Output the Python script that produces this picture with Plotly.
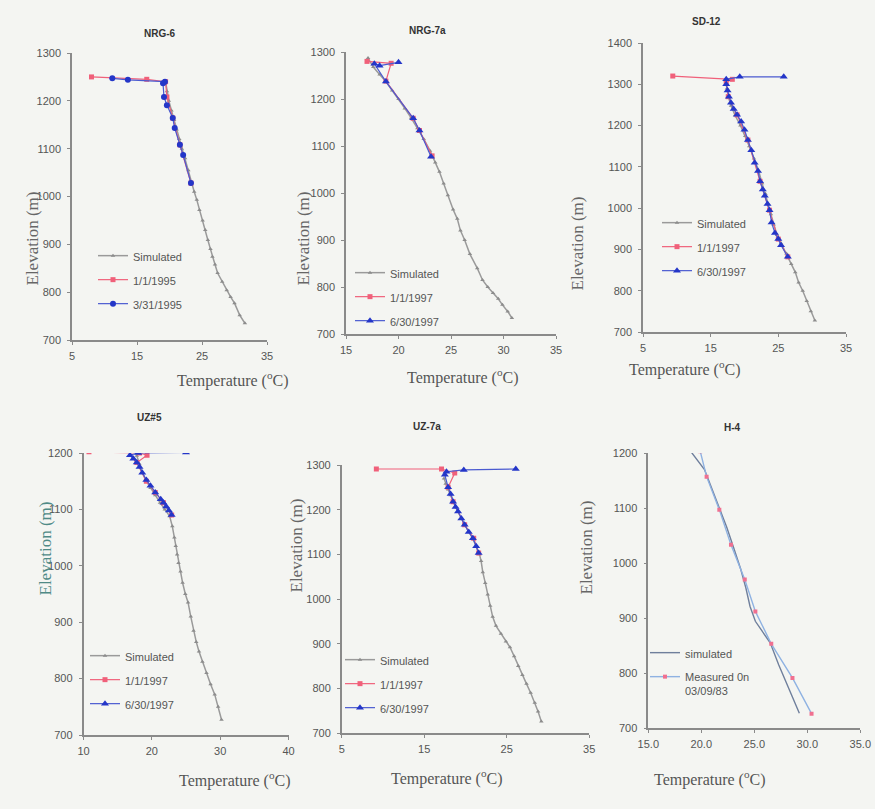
import plotly.graph_objects as go

W, H = 875, 809

# ---------------- data: temperature (deg C) vs elevation (m) ----------------
# NRG-6
nrg6_sim_t = [19.4, 19.6, 19.9, 20.3, 20.7, 21.1, 21.5, 21.9, 22.4, 22.9, 23.4, 23.8, 24.2, 24.6,
              25.1, 25.5, 25.9, 26.3, 26.6, 27.0, 27.4, 28.1, 28.8, 29.4, 30.0, 30.8, 31.6]
nrg6_sim_e = [1240, 1220, 1200, 1180, 1160, 1140, 1120, 1100, 1080, 1055, 1030, 1010, 993, 972,
              950, 930, 909, 890, 874, 858, 840, 822, 804, 790, 777, 752, 735]
nrg6_m1_t = [8.0, 16.5, 19.4, 19.6, 20.5, 21.6, 23.3]
nrg6_m1_e = [1250, 1245, 1240, 1208, 1164, 1108, 1028]
nrg6_m2_t = [11.2, 13.6, 19.3, 19.0, 19.15, 19.6, 20.5, 20.8, 21.6, 22.1, 23.3]
nrg6_m2_e = [1247, 1244, 1240, 1237, 1208, 1191, 1164, 1143, 1108, 1087, 1028]

# NRG-7a
nrg7_sim_t = [17.1, 17.6, 18.2, 18.8, 19.4, 20.0, 20.6, 21.2, 21.8, 22.4, 23.0, 23.5, 23.9, 24.3,
              24.7, 25.2, 25.6, 25.9, 26.3, 26.8, 27.5, 28.0, 28.5, 29.0, 29.5, 29.9, 30.4, 30.8]
nrg7_sim_e = [1287, 1268, 1252, 1237, 1218, 1200, 1180, 1160, 1138, 1115, 1090, 1065, 1045, 1020,
              995, 965, 945, 920, 900, 870, 840, 815, 800, 787, 775, 762, 748, 734]
nrg7_m1_t = [17.0, 19.3, 18.8, 21.4, 22.0, 23.2]
nrg7_m1_e = [1280, 1276, 1238, 1159, 1133, 1079]
nrg7_m2_t = [20.0, 18.2, 17.7, 18.8, 21.4, 22.0, 23.1]
nrg7_m2_e = [1278, 1271, 1275, 1237, 1159, 1133, 1077]

# SD-12
sd12_sim_t = [17.2, 17.4, 17.6, 18.0, 18.6, 19.4, 20.1, 20.7, 21.4, 22.1, 22.6, 23.1, 23.5, 23.9,
              24.3, 24.8, 25.4, 26.2, 26.9, 27.5, 28.0, 28.6, 29.2, 29.8, 30.4]
sd12_sim_e = [1310, 1290, 1270, 1248, 1225, 1200, 1175, 1150, 1120, 1090, 1060, 1035, 1010, 985,
              960, 935, 915, 890, 865, 845, 820, 800, 775, 750, 728]
sd12_m1_t = [9.4, 18.2, 17.3, 17.6, 18.9, 20.5, 22.3, 23.7, 25.0, 26.4]
sd12_m1_e = [1320, 1312, 1305, 1270, 1226, 1165, 1065, 995, 925, 882]
sd12_m2_t = [25.8, 19.3, 17.3, 17.3, 17.5, 17.7, 18.0, 18.4, 18.9, 19.5, 20.0, 20.5, 21.0, 21.5,
             22.0, 22.3, 22.7, 23.0, 23.4, 23.7, 24.0, 24.5, 25.0, 25.4, 26.4]
sd12_m2_e = [1318, 1318, 1312, 1300, 1285, 1270, 1255, 1240, 1226, 1210, 1190, 1165, 1140, 1110,
             1090, 1065, 1045, 1030, 1010, 995, 965, 940, 925, 910, 882]

# UZ#5
uz5_sim_t = [17.8, 18.2, 18.6, 19.2, 19.8, 20.5, 21.2, 21.9, 22.6, 23.0, 23.3, 23.5, 23.7, 23.9,
             24.2, 24.5, 24.9, 25.3, 25.7, 26.1, 26.5, 26.9, 27.4, 28.0, 28.6, 29.2, 29.7, 30.2]
uz5_sim_e = [1195, 1180, 1165, 1150, 1138, 1125, 1112, 1100, 1088, 1070, 1050, 1035, 1020, 1005,
             990, 970, 950, 935, 910, 885, 865, 848, 830, 810, 790, 772, 750, 727]
uz5_m1_t = [10.8, 18.2, 19.3, 17.8, 19.2, 20.5, 21.7, 22.9]
uz5_m1_e = [1202, 1200, 1196, 1183, 1150, 1130, 1112, 1090]
uz5_m2_t = [25.0, 18.0, 16.8, 17.3, 17.8, 18.2, 18.6, 19.2, 19.8, 20.5, 21.3, 21.7, 22.1, 22.5, 22.9]
uz5_m2_e = [1201, 1200, 1196, 1190, 1183, 1175, 1165, 1152, 1142, 1130, 1118, 1112, 1105, 1098, 1090]

# UZ-7a
uz7_sim_t = [17.4, 17.6, 17.9, 18.2, 18.5, 18.8, 19.1, 19.5, 19.9, 20.4, 20.9, 21.3, 21.7, 21.9,
             22.1, 22.4, 22.7, 23.0, 23.3, 23.7, 24.3, 24.9, 25.4, 25.9, 26.4, 26.9, 27.4, 27.9,
             28.4, 28.8, 29.2]
uz7_sim_e = [1270, 1258, 1245, 1232, 1218, 1206, 1195, 1180, 1166, 1150, 1135, 1118, 1100, 1085,
             1060, 1036, 1010, 985, 960, 940, 922, 905, 892, 872, 850, 830, 810, 790, 768, 748, 726]
uz7_m1_t = [9.2, 17.1, 18.7, 17.9, 18.5, 19.9, 21.0, 21.6]
uz7_m1_e = [1291, 1291, 1282, 1250, 1218, 1166, 1136, 1103]
uz7_m2_t = [26.1, 19.8, 17.7, 17.5, 17.9, 18.2, 18.5, 18.8, 19.1, 19.5, 19.9, 20.4, 20.9, 21.3, 21.6]
uz7_m2_e = [1291, 1289, 1285, 1278, 1250, 1235, 1218, 1206, 1196, 1180, 1166, 1150, 1136, 1118, 1103]

# H-4
h4_sim_t = [19.0, 19.6, 20.3, 21.0, 21.7, 22.4, 23.1, 23.7, 24.2, 24.6, 25.1, 25.8, 26.5, 27.3, 28.3, 29.25]
h4_sim_e = [1203, 1187, 1170, 1135, 1100, 1065, 1025, 990, 955, 921, 894, 875, 855, 815, 770, 727]
h4_meas_t = [19.9, 20.5, 21.7, 22.8, 24.1, 25.1, 26.6, 28.6, 30.4]
h4_meas_e = [1203, 1157, 1097, 1033, 970, 912, 853, 791, 726]

titles = ["NRG-6", "NRG-7a", "SD-12", "UZ#5", "UZ-7a", "H-4"]
legend_names = [
    ["Simulated", "1/1/1995", "3/31/1995"],
    ["Simulated", "1/1/1997", "6/30/1997"],
    ["Simulated", "1/1/1997", "6/30/1997"],
    ["Simulated", "1/1/1997", "6/30/1997"],
    ["Simulated", "1/1/1997", "6/30/1997"],
    ["simulated", "Measured 0n<br>03/09/83"],
]
x_ranges = [(5, 35), (15, 35), (5, 35), (10, 40), (5, 35), (15, 35)]
x_dticks = [10, 5, 10, 10, 10, 5]
y_ranges = [(700, 1300), (700, 1300), (700, 1400), (700, 1200), (700, 1300), (700, 1200)]

# ---------------- layout geometry (pixels) ----------------
# plot box: left, right, top, bottom
boxes = [
    (72, 267, 53, 340),
    (346, 556, 52, 334),
    (643, 846, 43, 332),
    (83.5, 288.5, 453, 735),
    (341.7, 589.2, 465, 733),
    (648.3, 860.3, 453, 728),
]
title_pos = [(142, 26), (427, 23), (723, 14), (135, 417), (427, 426), (743, 427)]
elev_pos = [(20, 190), (291, 190), (588, 195), (33, 598), (284, 595), (597, 597)]
temp_pos = [(175, 379), (463, 376), (743, 369), (177, 792), (447, 790), (768, 791)]
legend_pos = [(93, 242), (350, 259), (657, 209), (85, 642), (340, 646), (645, 639)]


def px(x):
    return x / W


def py(y):
    return 1 - y / H


SIM_GREY = "#9a9a9a"
RED = "#f0607a"
BLUE = "#2436c8"
AXIS = "#8a8a8a"
TICKFONT = dict(family="Liberation Sans, Arial", size=11, color="#555555")
SERIF = "Liberation Serif, Times New Roman"

series = [
    (nrg6_sim_t, nrg6_sim_e, nrg6_m1_t, nrg6_m1_e, nrg6_m2_t, nrg6_m2_e),
    (nrg7_sim_t, nrg7_sim_e, nrg7_m1_t, nrg7_m1_e, nrg7_m2_t, nrg7_m2_e),
    (sd12_sim_t, sd12_sim_e, sd12_m1_t, sd12_m1_e, sd12_m2_t, sd12_m2_e),
    (uz5_sim_t, uz5_sim_e, uz5_m1_t, uz5_m1_e, uz5_m2_t, uz5_m2_e),
    (uz7_sim_t, uz7_sim_e, uz7_m1_t, uz7_m1_e, uz7_m2_t, uz7_m2_e),
]

fig = go.Figure()

for i in range(6):
    n = i + 1
    xa = "x" if n == 1 else f"x{n}"
    ya = "y" if n == 1 else f"y{n}"
    lg = "legend" if n == 1 else f"legend{n}"
    names = legend_names[i]
    if i < 5:
        st, se, at, ae, bt, be = series[i]
        fig.add_trace(go.Scatter(
            x=st, y=se, mode="lines+markers", name=names[0], xaxis=xa, yaxis=ya,
            legend=lg, legendgroup=f"g{n}a",
            line=dict(color=SIM_GREY, width=1.5),
            marker=dict(symbol="triangle-up", size=4, color="#8c8c8c")))
        fig.add_trace(go.Scatter(
            x=at, y=ae, mode="lines+markers", name=names[1], xaxis=xa, yaxis=ya,
            legend=lg, legendgroup=f"g{n}b",
            line=dict(color=RED, width=1.2),
            marker=dict(symbol="square", size=5, color=RED)))
        fig.add_trace(go.Scatter(
            x=bt, y=be, mode="lines+markers", name=names[2], xaxis=xa, yaxis=ya,
            legend=lg, legendgroup=f"g{n}c",
            line=dict(color="#4a5ad0", width=1.2),
            marker=dict(symbol="circle" if i == 0 else "triangle-up",
                        size=6 if i == 0 else 7, color=BLUE)))
    else:
        fig.add_trace(go.Scatter(
            x=h4_sim_t, y=h4_sim_e, mode="lines", name=names[0], xaxis=xa, yaxis=ya,
            legend=lg, legendgroup=f"g{n}a",
            line=dict(color="#6f7f9c", width=1.4)))
        fig.add_trace(go.Scatter(
            x=h4_meas_t, y=h4_meas_e, mode="lines+markers", name=names[1], xaxis=xa, yaxis=ya,
            legend=lg, legendgroup=f"g{n}b",
            line=dict(color="#8fb2e2", width=1.4),
            marker=dict(symbol="square", size=4, color="#f07090")))

    l, r, t, b = boxes[i]
    xkey = "xaxis" if n == 1 else f"xaxis{n}"
    ykey = "yaxis" if n == 1 else f"yaxis{n}"
    fig.update_layout({
        xkey: dict(domain=[px(l), px(r)], anchor=ya, range=list(x_ranges[i]),
                   dtick=x_dticks[i], tick0=x_ranges[i][0],
                   tickformat=".1f" if i == 5 else "d",
                   showline=True, linecolor=AXIS, linewidth=1.5, showgrid=False,
                   zeroline=False, ticks="outside", ticklen=3, tickcolor=AXIS,
                   tickfont=TICKFONT, ticklabelstandoff=2, automargin=False),
        ykey: dict(domain=[py(b), py(t)], anchor=xa, range=list(y_ranges[i]),
                   dtick=100, showline=True, linecolor=AXIS, linewidth=1.5,
                   showgrid=False, zeroline=False, ticks="outside", ticklen=3,
                   tickcolor=AXIS, tickfont=TICKFONT, ticklabelstandoff=4,
                   automargin=False),
    })

    lx, ly = legend_pos[i]
    fig.update_layout({
        lg: dict(x=px(lx), y=py(ly), xanchor="left", yanchor="top",
                 bgcolor="rgba(0,0,0,0)", borderwidth=0,
                 font=dict(family="Liberation Sans, Arial", size=11, color="#555555"),
                 traceorder="grouped", tracegroupgap=5, itemwidth=30,
                 valign="top")
    })

annotations = []
for i in range(6):
    tx, ty = title_pos[i]
    annotations.append(dict(
        x=px(tx), y=py(ty), xref="paper", yref="paper", showarrow=False,
        text=f"<b>{titles[i]}</b>",
        font=dict(family="Liberation Sans, Arial", size=10, color="#333333")))
    ex, ey = elev_pos[i]
    annotations.append(dict(
        x=px(ex), y=py(ey), xref="paper", yref="paper", showarrow=False,
        text="Elevation (m)", textangle=-90,
        font=dict(family=SERIF, size=17, color="#4f8a86" if i == 3 else "#666666")))
    tx2, ty2 = temp_pos[i]
    annotations.append(dict(
        x=px(tx2), y=py(ty2), xref="paper", yref="paper", showarrow=False,
        text="Temperature (<sup>o</sup>C)",
        font=dict(family=SERIF, size=16, color="#555555")))

fig.update_layout(
    width=W, height=H,
    margin=dict(l=0, r=0, t=0, b=0),
    paper_bgcolor="#f4f5f2",
    plot_bgcolor="rgba(0,0,0,0)",
    annotations=annotations,
    showlegend=True,
)

fig.write_html("out.html")
